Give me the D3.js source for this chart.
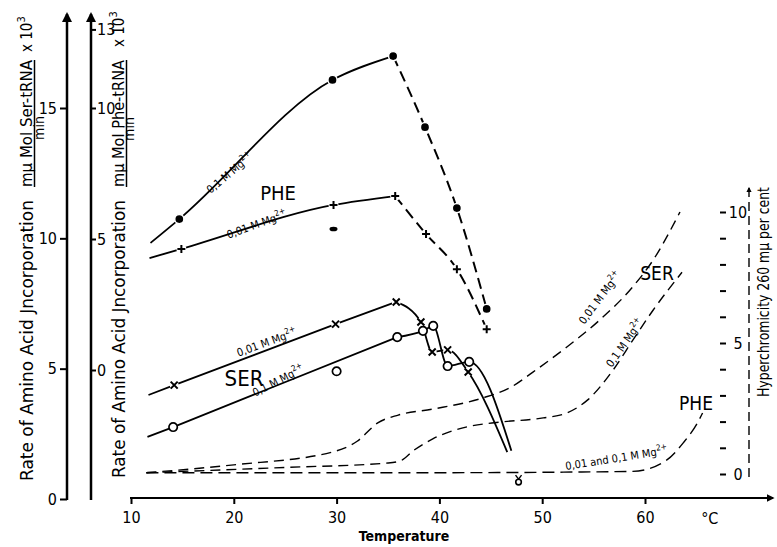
<!DOCTYPE html>
<html>
<head>
<meta charset="utf-8">
<script src="https://cdn.jsdelivr.net/npm/d3@7"></script>
<style>
body { margin: 0; background: #fff; }
svg { font-family: "DejaVu Sans Condensed", "Liberation Sans Narrow", "DejaVu Sans", sans-serif; }
</style>
</head>
<body>
<div id="chart-area"></div>
<script>
// tick values
var tempTicks = [10, 20, 30, 40, 50, 60];
var serTicks = [0, 5, 10, 15];
var pheTicks = [0, 5, 10, 13];
var hypTicks = [0, 1, 2, 3, 4, 5, 6, 7, 8, 9, 10];

// Phe-tRNA incorporation (mμ Mol/min x 10^3)
var phe01Temp = [11.9, 14.7, 29.6, 35.5, 38.6, 41.7, 44.6];
var phe01Val  = [4.85, 5.76, 11.07, 11.98, 9.27, 6.18, 2.33];
var phe001Temp = [11.8, 14.9, 29.7, 35.7, 38.7, 41.7, 44.6];
var phe001Val  = [4.27, 4.62, 6.30, 6.64, 5.19, 3.85, 1.56];

// Ser-tRNA incorporation
var ser001Temp = [11.7, 14.2, 29.9, 35.8, 38.2, 39.3, 40.8, 42.8, 46.6];
var ser001Val  = [3.99, 4.37, 6.71, 7.56, 6.79, 5.64, 5.72, 4.87, 1.8];
var ser01Temp = [11.6, 14.1, 35.9, 38.4, 39.4, 40.8, 42.9, 47.0];
var ser01Val  = [2.38, 2.76, 6.21, 6.45, 6.64, 5.1, 5.26, 1.85];

// hyperchromicity 260 mμ (per cent)
var hypSer001Temp = [11.5, 20, 29.6, 32, 34, 36, 39.4, 44.2, 46.9, 49.1, 52.4, 55.6, 58.8, 60.8, 63.4];
var hypSer001Val  = [0.05, 0.35, 0.84, 1.25, 1.95, 2.25, 2.48, 2.9, 3.3, 3.89, 4.85, 5.88, 7.14, 8.17, 10.0];
var hypSer01Temp = [11.5, 25, 35, 36.2, 37.5, 39.4, 42.7, 45.9, 50.1, 52.4, 54.4, 56.9, 58.8, 60.8, 63.6];
var hypSer01Val  = [0.05, 0.25, 0.42, 0.5, 0.9, 1.35, 1.8, 1.98, 2.14, 2.33, 2.82, 3.97, 5.1, 6.26, 7.7];
var hypPheTemp = [11.5, 40, 58.8, 62.1, 63.7, 65.1, 65.6];
var hypPheVal  = [0.05, 0.05, 0.1, 0.53, 1.18, 1.95, 2.33];

var width = 777;
var height = 547;

var svg = d3.select("#chart-area").append("svg")
	.attr("width", width)
	.attr("height", height);

var x = d3.scaleLinear().domain([10, 60]).range([131, 645]);
var ySer = d3.scaleLinear().domain([0, 15]).range([499, 108]);
var yPhe = d3.scaleLinear().domain([0, 10]).range([370, 108]);
var yHyp = d3.scaleLinear().domain([0, 10]).range([474, 212]);

svg.append("defs").append("marker")
	.attr("id", "arrow")
	.attr("viewBox", "0 0 10 10")
	.attr("refX", 8).attr("refY", 5)
	.attr("markerWidth", 4).attr("markerHeight", 4)
	.attr("orient", "auto")
	.append("path").attr("d", "M0,0L10,5L0,10z").attr("fill", "#000");

// ---- axes ----
var serAxis = svg.append("g")
	.attr("transform", "translate(67,0)")
	.call(d3.axisLeft(ySer).tickValues(serTicks).tickSize(7).tickPadding(3));
serAxis.select(".domain").remove();
svg.append("line").attr("x1", 67).attr("x2", 67).attr("y1", 500).attr("y2", 14)
	.attr("stroke", "#000").attr("stroke-width", 2.5).attr("marker-end", "url(#arrow)");

var pheAxis = svg.append("g")
	.attr("transform", "translate(91,0)")
	.call(d3.axisRight(yPhe).tickValues(pheTicks).tickSize(5).tickPadding(1));
pheAxis.select(".domain").remove();
svg.append("line").attr("x1", 91).attr("x2", 91).attr("y1", 500).attr("y2", 14)
	.attr("stroke", "#000").attr("stroke-width", 2.5).attr("marker-end", "url(#arrow)");

var tempAxis = svg.append("g")
	.attr("transform", "translate(0,498)")
	.call(d3.axisBottom(x).tickValues(tempTicks).tickSize(6).tickPadding(8));
tempAxis.select(".domain").remove();
svg.append("line").attr("x1", 130).attr("x2", 773).attr("y1", 498).attr("y2", 498)
	.attr("stroke", "#000").attr("stroke-width", 2).attr("marker-end", "url(#arrow)");

var hypAxis = svg.append("g")
	.attr("transform", "translate(720,0)")
	.call(d3.axisRight(yHyp).tickValues(hypTicks).tickSize(6).tickPadding(6)
		.tickFormat(function(d){ return d % 5 === 0 ? d : ""; }));
hypAxis.select(".domain").remove();
hypAxis.selectAll("text").attr("x", 18).attr("text-anchor", "middle");
svg.append("line").attr("x1", 749).attr("x2", 749).attr("y1", 477).attr("y2", 188)
	.attr("stroke", "#000").attr("stroke-width", 1.4).attr("stroke-dasharray", "9,5")
	.attr("marker-end", "url(#arrow)");

svg.selectAll(".tick line").attr("stroke-width", 2);
svg.selectAll(".tick text").attr("font-size", "16px")
	.attr("font-family", "\"DejaVu Sans Condensed\", sans-serif");

svg.append("text").attr("x", x(66.3)).attr("y", 524)
	.attr("text-anchor", "middle").attr("font-size", "16px").text("°C");
svg.append("text").attr("x", 404).attr("y", 541)
	.attr("text-anchor", "middle").attr("font-size", "14px").attr("font-weight", "bold")
	.text("Temperature");

// ---- axis titles ----
function fractionTitle(tx, ty, mainLen, numStart, numLen, numBase, lineY, minX, minY, expStart, sub) {
	var g = svg.append("g").attr("transform", "translate(" + tx + "," + ty + ") rotate(-90)");
	g.append("text").attr("x", 0).attr("y", 0)
		.attr("font-size", "17px").attr("textLength", mainLen).attr("lengthAdjust", "spacingAndGlyphs")
		.text("Rate of Amino Acid Jncorporation");
	g.append("text").attr("x", numStart).attr("y", numBase)
		.attr("font-size", "16px").attr("textLength", numLen).attr("lengthAdjust", "spacingAndGlyphs")
		.text("mμ Mol " + sub + "-tRNA");
	g.append("line").attr("x1", numStart).attr("x2", numStart + numLen)
		.attr("y1", lineY).attr("y2", lineY).attr("stroke", "#000").attr("stroke-width", 1.5);
	g.append("text").attr("x", minX).attr("y", minY).attr("text-anchor", "middle")
		.attr("font-size", "14px").text("min");
	var e = g.append("text").attr("x", expStart).attr("y", numBase).attr("font-size", "15px");
	e.append("tspan").text("x 10");
	e.append("tspan").attr("dy", -7).attr("font-size", "11px").text("3");
}
fractionTitle(33, 481, 281, 294, 127, -1, 1.5, 353, 11, 429, "Ser");
fractionTitle(125, 478, 278, 291, 127, -1, 1.5, 349, 9, 431, "Phe");

svg.append("text")
	.attr("transform", "translate(769,397) rotate(-90)")
	.attr("font-size", "15px").attr("textLength", 210).attr("lengthAdjust", "spacingAndGlyphs")
	.text("Hyperchromicity 260 mμ per cent");

// ---- curves ----
function pts(t, v) { return t.map(function(d, i) { return [d, v[i]]; }); }
function lineGen(ys, curve) {
	return d3.line().x(function(d){ return x(d[0]); }).y(function(d){ return ys(d[1]); })
		.curve(curve || d3.curveMonotoneX);
}
function drawCurve(data, ys, dash, w, curve) {
	svg.append("path").datum(data)
		.attr("d", lineGen(ys, curve))
		.attr("fill", "none").attr("stroke", "#000")
		.attr("stroke-width", w)
		.attr("stroke-dasharray", dash);
}

// hyperchromicity (dashed, thin)
drawCurve(pts(hypSer001Temp, hypSer001Val), yHyp, "10,6", 1.4);
drawCurve(pts(hypSer01Temp, hypSer01Val), yHyp, "10,6", 1.4);
drawCurve(pts(hypPheTemp, hypPheVal), yHyp, "12,6", 1.4);

var phe01 = pts(phe01Temp, phe01Val);
var phe001 = pts(phe001Temp, phe001Val);
drawCurve(phe01.slice(0, 4), yPhe, null, 1.8);
drawCurve(phe01.slice(3), yPhe, "11,6", 2);
drawCurve(phe001.slice(0, 4), yPhe, null, 1.8);
drawCurve(phe001.slice(3), yPhe, "11,6", 2);

var ser001 = pts(ser001Temp, ser001Val);
var ser01 = pts(ser01Temp, ser01Val);
drawCurve(ser001.slice(0, 4), ySer, null, 1.8, d3.curveLinear);
drawCurve(ser001.slice(3), ySer, null, 1.8);
drawCurve(ser01.slice(0, 3), ySer, null, 1.8, d3.curveLinear);
drawCurve(ser01.slice(2), ySer, null, 1.8);

// ---- markers ----
function drawMarks(data, ys, kind) {
	var g = svg.append("g");
	var m = g.selectAll("g").data(data).enter().append("g")
		.attr("transform", function(d){ return "translate(" + x(d[0]) + "," + ys(d[1]) + ")"; });
	if (kind === "dot") {
		m.append("circle").attr("r", 4.6).attr("fill", "#000").attr("stroke", "#fff").attr("stroke-width", 1.5);
	} else if (kind === "ring") {
		m.append("circle").attr("r", 4.2).attr("fill", "#fff").attr("stroke", "#000").attr("stroke-width", 1.7);
	} else if (kind === "plus") {
		m.append("circle").attr("r", 5).attr("fill", "#fff");
		m.append("path").attr("d", "M-4,0H4M0,-4V4").attr("stroke", "#000").attr("stroke-width", 2);
	} else {
		m.append("circle").attr("r", 4.5).attr("fill", "#fff");
		m.append("path").attr("d", "M-3.5,-3.5L3.5,3.5M3.5,-3.5L-3.5,3.5").attr("stroke", "#000").attr("stroke-width", 2);
	}
}
drawMarks(phe01.slice(1), yPhe, "dot");
drawMarks(phe001.slice(1), yPhe, "plus");
drawMarks(ser001.slice(1, 8), ySer, "cross");
drawMarks(ser01.slice(1, 7), ySer, "ring");

// stray points
var serStrayTemp = [30.0];
var serStrayVal = [4.9];
drawMarks(pts(serStrayTemp, serStrayVal), ySer, "ring");
var pheStrayTemp = [29.7];
var pheStrayVal = [5.38];
svg.selectAll(".blob").data(pts(pheStrayTemp, pheStrayVal)).enter().append("ellipse")
	.attr("cx", function(d){ return x(d[0]); }).attr("cy", function(d){ return yPhe(d[1]); })
	.attr("rx", 4).attr("ry", 2.3).attr("fill", "#000");
var baseStrayTemp = [47.7];
var baseStrayVal = [0.65];
var bs = svg.selectAll(".bstray").data(pts(baseStrayTemp, baseStrayVal)).enter().append("g")
	.attr("transform", function(d){ return "translate(" + x(d[0]) + "," + ySer(d[1]) + ")"; });
bs.append("circle").attr("r", 2.8).attr("fill", "none").attr("stroke", "#000").attr("stroke-width", 1.6);
bs.append("path").attr("d", "M-3,-7L0,-3L3,-7").attr("fill", "none").attr("stroke", "#000").attr("stroke-width", 1.4);

// ---- annotations ----
function note(txt, sup, px, py, angle, size) {
	var t = svg.append("text")
		.attr("transform", "translate(" + px + "," + py + ") rotate(" + angle + ")")
		.attr("text-anchor", "middle")
		.attr("fill", "#000")
		.attr("font-size", size + "px");
	t.append("tspan").text(txt);
	if (sup) t.append("tspan").attr("dy", -size * 0.45).attr("font-size", (size * 0.75) + "px").text(sup);
	return t;
}
note("0,1 M Mg", "2+", 232, 176, -40, 11);
note("0,01 M Mg", "2+", 258, 228, -20, 11);
note("PHE", null, 278, 200, 0, 20);
note("0,01 M Mg", "2+", 268, 346, -20, 11);
note("0,1 M Mg", "2+", 280, 384, -27, 11);
note("SER", null, 244, 386, 0, 22);

note("0,01 M Mg", "2+", 603, 300, -53, 11);
note("0,1 M Mg", "2+", 628, 345, -55, 11);
note("SER", null, 657, 280, 0, 19);
note("0,01 and 0,1 M Mg", "2+", 617, 462, -9, 11);
note("PHE", null, 696, 410, 0, 19);
</script>
</body>
</html>
